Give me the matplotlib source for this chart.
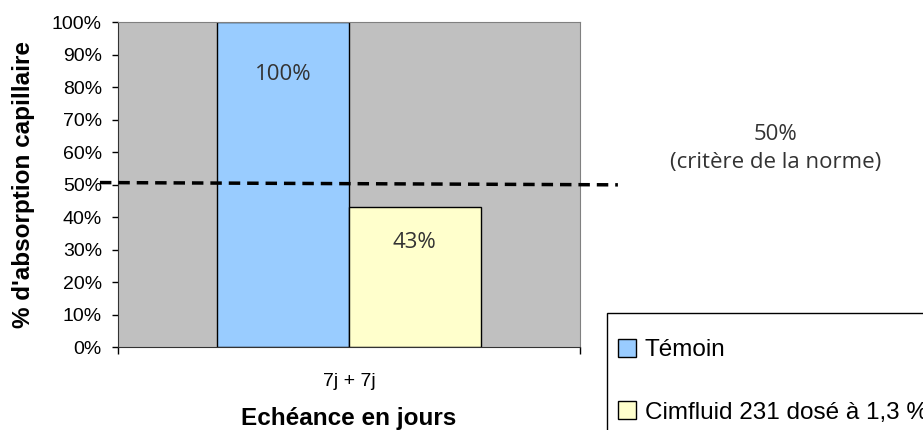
import matplotlib.pyplot as plt
import matplotlib.transforms as mtransforms
from matplotlib.patches import Rectangle
from matplotlib.ticker import FuncFormatter

# Data
categories = ['7j + 7j']
series_names = ['Témoin', 'Cimfluid 231 dosé à 1,3 %']
series_values = [100, 43]
series_colors = ['#99CCFF', '#FFFFCC']
bar_labels = ['100%', '43%']
threshold_ends = [50.6, 49.9]  # hand-drawn line, slightly sloped
threshold_text = '50%\n(critère de la norme)'

plt.rcParams['font.family'] = ['Liberation Sans', 'DejaVu Sans']

fig = plt.figure(figsize=(9.23, 4.30), dpi=100)
ax = fig.add_axes([0.1278, 0.193, 0.5006, 0.7558])
ax.set_facecolor('#C0C0C0')

# Bars side by side inside the single category
width = 0.285
offsets = [-width / 2, width / 2]
label_offsets = [-37.5, -25.5]  # points below bar top
bars = []
for i, (name, val, col) in enumerate(zip(series_names, series_values, series_colors)):
    b = ax.bar(0 + offsets[i], val, width=width, color=col, edgecolor='black',
               linewidth=1.0, label=name, zorder=2)
    bars.append(b[0])
    ax.annotate(bar_labels[i], xy=(0 + offsets[i], val), xytext=(0, label_offsets[i]),
                textcoords='offset points', ha='center', va='center',
                fontsize=16, family='Open Sans', color='#333333', zorder=3)

ax.set_xlim(-0.5, 0.5)
ax.set_ylim(0, 100)
ax.set_yticks(range(0, 101, 10))
ax.yaxis.set_major_formatter(FuncFormatter(lambda v, p: f'{int(v)}%'))
ax.tick_params(axis='y', direction='out', length=4.5, width=1, labelsize=14, pad=7)
ax.set_xticks([0])
ax.set_xticklabels(categories, fontsize=14)
ax.set_xticks([-0.5, 0.5], minor=True)
ax.tick_params(axis='x', which='major', length=0, pad=19)
ax.tick_params(axis='x', which='minor', direction='out', length=5, width=1)

for side in ['top', 'right']:
    ax.spines[side].set_color('#808080')
for side in ['left', 'bottom']:
    ax.spines[side].set_color('#333333')

ax.set_ylabel("% d'absorption capillaire", fontsize=17.5, fontweight='bold', labelpad=12)
ax.set_xlabel('Echéance en jours', fontsize=17.5, fontweight='bold', labelpad=12)

# Threshold dashed line, extending beyond the plot area
trans = mtransforms.blended_transform_factory(ax.transAxes, ax.transData)
ax.plot([-0.039, 1.082], threshold_ends, transform=trans, color='black',
        linestyle=(0, (3.3, 2)), linewidth=2.5, clip_on=False, zorder=4)

fig.text(0.84, 0.655, threshold_text, ha='center', va='center', fontsize=16,
         family='Open Sans', color='#333333', linespacing=1.4)

# Legend box (clipped by the figure edge, as in the original)
fig.patches.append(Rectangle((0.6576, -0.2), 0.5, 0.472, transform=fig.transFigure,
                             facecolor='white', edgecolor='black', linewidth=1.0))
leg = fig.legend(handles=bars, labels=series_names, loc='upper left',
                 bbox_to_anchor=(0.6696, 0.212), borderaxespad=0, borderpad=0,
                 fontsize=17.5, frameon=False,
                 handlelength=0.75, handleheight=0.75, handletextpad=0.35,
                 labelspacing=1.65)

fig.savefig('out.png', dpi=100)
